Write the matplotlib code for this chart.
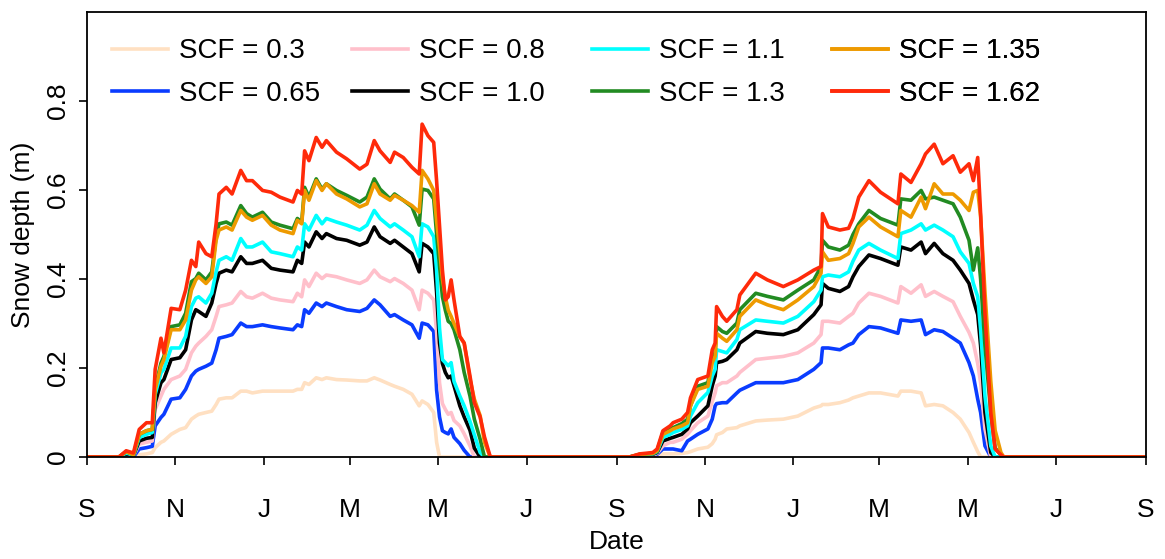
import numpy as np
import pandas as pd
import matplotlib
matplotlib.use("Agg")
import matplotlib.pyplot as plt

# ---- data: days since 1 September of the first year ----
days = [0, 22, 27, 32, 36, 41, 45, 47, 51, 53,
        58, 64, 68, 72, 75, 77, 82, 86, 89, 91,
        96, 100, 106, 110, 114, 121, 127, 133, 142, 145,
        148, 150, 153, 158, 162, 165, 172, 179, 188, 193,
        198, 202, 209, 212, 218, 224, 229, 231, 235, 239,
        241, 243, 245, 247, 249, 251, 253, 257, 260, 264,
        267, 271, 274, 278,
        365, 374, 381, 390, 393, 397, 402, 404, 410, 414,
        416, 421, 428, 431, 433, 434, 438, 441, 448, 450,
        461, 469, 480, 490, 501, 506, 507, 511, 519, 525,
        528, 532, 539, 547, 559, 561, 568, 575, 578, 584,
        590, 597, 602, 608, 611, 614, 616, 619, 623, 626,
        630, 632, 730]

scf_030 = [0, 0, 0, 0, 0.005, 0.007, 0.010, 0.021, 0.033, 0.036,
           0.051, 0.062, 0.066, 0.085, 0.092, 0.096, 0.100, 0.103, 0.118, 0.130,
           0.133, 0.133, 0.148, 0.148, 0.144, 0.148, 0.148, 0.148, 0.148, 0.152,
           0.152, 0.167, 0.163, 0.178, 0.174, 0.178, 0.174, 0.173, 0.171, 0.171,
           0.178, 0.173, 0.163, 0.159, 0.152, 0.141, 0.115, 0.126, 0.118, 0.100,
           0.033, 0, 0, 0, 0, 0, 0, 0, 0, 0,
           0, 0, 0, 0,
           0, 0, 0, 0, 0.003, 0.007, 0.007, 0.007, 0.008, 0.010,
           0.012, 0.018, 0.022, 0.030, 0.040, 0.050, 0.055, 0.063, 0.066, 0.070,
           0.081, 0.083, 0.085, 0.092, 0.110, 0.115, 0.118, 0.118, 0.122, 0.128,
           0.133, 0.137, 0.144, 0.144, 0.137, 0.148, 0.148, 0.144, 0.115, 0.118,
           0.115, 0.100, 0.085, 0.055, 0.033, 0.012, 0, 0, 0, 0,
           0, 0, 0]

scf_065 = [0, 0, 0, 0, 0.018, 0.021, 0.024, 0.070, 0.089, 0.096,
           0.130, 0.133, 0.152, 0.182, 0.193, 0.197, 0.204, 0.211, 0.241, 0.267,
           0.271, 0.275, 0.301, 0.293, 0.293, 0.297, 0.293, 0.290, 0.286, 0.297,
           0.293, 0.331, 0.323, 0.346, 0.338, 0.346, 0.338, 0.331, 0.327, 0.334,
           0.353, 0.342, 0.316, 0.320, 0.308, 0.297, 0.267, 0.301, 0.297, 0.282,
           0.150, 0.090, 0.059, 0.055, 0.052, 0.063, 0.044, 0.030, 0.015, 0,
           0, 0, 0, 0,
           0, 0, 0.002, 0.003, 0.006, 0.018, 0.018, 0.018, 0.014, 0.036,
           0.040, 0.051, 0.063, 0.085, 0.115, 0.120, 0.122, 0.122, 0.144, 0.150,
           0.167, 0.167, 0.167, 0.174, 0.197, 0.212, 0.245, 0.245, 0.241, 0.252,
           0.256, 0.275, 0.293, 0.290, 0.278, 0.308, 0.305, 0.308, 0.275, 0.286,
           0.282, 0.267, 0.256, 0.212, 0.182, 0.130, 0.100, 0.025, 0, 0,
           0, 0, 0]

scf_080 = [0, 0, 0.006, 0.002, 0.029, 0.033, 0.036, 0.107, 0.137, 0.152,
           0.174, 0.182, 0.197, 0.234, 0.249, 0.256, 0.271, 0.286, 0.316, 0.338,
           0.342, 0.346, 0.372, 0.360, 0.357, 0.368, 0.357, 0.353, 0.349, 0.368,
           0.360, 0.398, 0.383, 0.413, 0.401, 0.409, 0.405, 0.398, 0.390, 0.398,
           0.420, 0.405, 0.394, 0.401, 0.390, 0.375, 0.331, 0.375, 0.368, 0.353,
           0.280, 0.167, 0.120, 0.107, 0.096, 0.100, 0.082, 0.070, 0.052, 0.025,
           0, 0, 0, 0,
           0, 0, 0.003, 0.004, 0.008, 0.025, 0.033, 0.033, 0.040, 0.051,
           0.059, 0.077, 0.092, 0.125, 0.144, 0.160, 0.167, 0.167, 0.182, 0.190,
           0.219, 0.222, 0.226, 0.234, 0.256, 0.275, 0.305, 0.305, 0.301, 0.316,
           0.323, 0.346, 0.368, 0.361, 0.346, 0.383, 0.368, 0.387, 0.361, 0.372,
           0.361, 0.349, 0.316, 0.280, 0.256, 0.210, 0.167, 0.063, 0, 0,
           0, 0, 0]

scf_100 = [0, 0, 0.007, 0.003, 0.036, 0.042, 0.044, 0.122, 0.167, 0.174,
           0.219, 0.223, 0.241, 0.308, 0.331, 0.327, 0.316, 0.346, 0.390, 0.413,
           0.420, 0.416, 0.450, 0.435, 0.435, 0.442, 0.424, 0.420, 0.416, 0.442,
           0.435, 0.483, 0.472, 0.506, 0.491, 0.502, 0.491, 0.487, 0.476, 0.483,
           0.517, 0.495, 0.480, 0.487, 0.472, 0.457, 0.416, 0.480, 0.472, 0.457,
           0.370, 0.256, 0.210, 0.190, 0.178, 0.182, 0.160, 0.115, 0.090, 0.060,
           0.020, 0, 0, 0,
           0, 0, 0.004, 0.006, 0.010, 0.036, 0.042, 0.044, 0.051, 0.063,
           0.077, 0.092, 0.115, 0.160, 0.182, 0.212, 0.215, 0.219, 0.241, 0.256,
           0.282, 0.278, 0.275, 0.286, 0.320, 0.342, 0.390, 0.379, 0.372, 0.383,
           0.405, 0.428, 0.454, 0.446, 0.431, 0.472, 0.465, 0.483, 0.457, 0.480,
           0.457, 0.442, 0.420, 0.390, 0.353, 0.320, 0.250, 0.100, 0.010, 0,
           0, 0, 0]

scf_110 = [0, 0, 0.009, 0.004, 0.044, 0.051, 0.055, 0.141, 0.189, 0.197,
           0.245, 0.245, 0.271, 0.338, 0.357, 0.360, 0.346, 0.368, 0.416, 0.442,
           0.450, 0.442, 0.491, 0.472, 0.472, 0.483, 0.461, 0.457, 0.450, 0.472,
           0.465, 0.524, 0.510, 0.543, 0.524, 0.536, 0.528, 0.521, 0.510, 0.521,
           0.554, 0.536, 0.517, 0.524, 0.510, 0.495, 0.450, 0.524, 0.517, 0.495,
           0.420, 0.290, 0.219, 0.212, 0.205, 0.212, 0.170, 0.137, 0.115, 0.080,
           0.050, 0.010, 0, 0,
           0, 0, 0.005, 0.007, 0.012, 0.044, 0.051, 0.055, 0.062, 0.070,
           0.092, 0.122, 0.145, 0.182, 0.197, 0.241, 0.237, 0.234, 0.264, 0.286,
           0.308, 0.305, 0.301, 0.316, 0.349, 0.375, 0.405, 0.409, 0.405, 0.416,
           0.440, 0.465, 0.480, 0.465, 0.446, 0.502, 0.510, 0.524, 0.510, 0.521,
           0.510, 0.495, 0.461, 0.435, 0.390, 0.360, 0.286, 0.137, 0.025, 0,
           0, 0, 0]

scf_130 = [0, 0, 0.012, 0.005, 0.051, 0.059, 0.062, 0.156, 0.211, 0.226,
           0.293, 0.297, 0.323, 0.394, 0.401, 0.413, 0.398, 0.416, 0.495, 0.524,
           0.528, 0.521, 0.565, 0.547, 0.539, 0.550, 0.528, 0.521, 0.513, 0.536,
           0.528, 0.606, 0.584, 0.625, 0.602, 0.614, 0.599, 0.588, 0.573, 0.584,
           0.625, 0.602, 0.580, 0.591, 0.577, 0.562, 0.521, 0.602, 0.599, 0.580,
           0.500, 0.430, 0.360, 0.330, 0.305, 0.300, 0.286, 0.241, 0.190, 0.137,
           0.085, 0.040, 0, 0,
           0, 0, 0.006, 0.008, 0.014, 0.055, 0.062, 0.066, 0.075, 0.085,
           0.115, 0.159, 0.167, 0.226, 0.234, 0.293, 0.282, 0.278, 0.301, 0.331,
           0.368, 0.361, 0.353, 0.375, 0.398, 0.428, 0.487, 0.472, 0.465, 0.476,
           0.500, 0.524, 0.554, 0.536, 0.521, 0.580, 0.577, 0.599, 0.580, 0.584,
           0.577, 0.569, 0.539, 0.487, 0.420, 0.470, 0.400, 0.250, 0.100, 0.020,
           0.005, 0, 0]

scf_135 = [0, 0, 0.012, 0.005, 0.051, 0.059, 0.062, 0.152, 0.204, 0.219,
           0.286, 0.286, 0.308, 0.375, 0.398, 0.405, 0.390, 0.405, 0.487, 0.510,
           0.517, 0.510, 0.554, 0.539, 0.532, 0.543, 0.521, 0.510, 0.502, 0.532,
           0.524, 0.599, 0.577, 0.621, 0.599, 0.614, 0.591, 0.580, 0.562, 0.569,
           0.614, 0.591, 0.577, 0.588, 0.577, 0.565, 0.550, 0.644, 0.625, 0.599,
           0.530, 0.470, 0.400, 0.360, 0.330, 0.316, 0.300, 0.270, 0.256, 0.175,
           0.130, 0.093, 0.033, 0,
           0, 0, 0.006, 0.008, 0.014, 0.051, 0.059, 0.063, 0.070, 0.077,
           0.115, 0.152, 0.159, 0.212, 0.226, 0.278, 0.267, 0.260, 0.286, 0.316,
           0.353, 0.342, 0.331, 0.353, 0.383, 0.413, 0.461, 0.442, 0.446, 0.457,
           0.480, 0.517, 0.539, 0.517, 0.495, 0.554, 0.539, 0.584, 0.558, 0.614,
           0.591, 0.591, 0.577, 0.554, 0.595, 0.599, 0.540, 0.370, 0.170, 0.060,
           0.010, 0, 0]

scf_162 = [0, 0, 0.014, 0.009, 0.062, 0.077, 0.077, 0.197, 0.267, 0.234,
           0.334, 0.331, 0.375, 0.442, 0.428, 0.483, 0.457, 0.450, 0.524, 0.591,
           0.606, 0.591, 0.644, 0.621, 0.621, 0.599, 0.595, 0.584, 0.573, 0.599,
           0.591, 0.688, 0.666, 0.718, 0.696, 0.711, 0.685, 0.670, 0.647, 0.658,
           0.711, 0.688, 0.662, 0.685, 0.673, 0.651, 0.636, 0.748, 0.722, 0.707,
           0.620, 0.520, 0.420, 0.353, 0.360, 0.398, 0.353, 0.271, 0.256, 0.182,
           0.122, 0.090, 0.045, 0,
           0, 0, 0.007, 0.010, 0.018, 0.059, 0.070, 0.077, 0.085, 0.100,
           0.133, 0.174, 0.182, 0.241, 0.256, 0.338, 0.316, 0.305, 0.331, 0.364,
           0.413, 0.398, 0.383, 0.398, 0.420, 0.428, 0.547, 0.517, 0.510, 0.514,
           0.536, 0.584, 0.621, 0.595, 0.569, 0.636, 0.617, 0.659, 0.681, 0.703,
           0.659, 0.677, 0.640, 0.659, 0.621, 0.673, 0.547, 0.323, 0.100, 0.018,
           0.005, 0, 0]

series_labels = ["SCF = 0.3", "SCF = 0.65", "SCF = 0.8", "SCF = 1.0",
                 "SCF = 1.1", "SCF = 1.3", "SCF = 1.35", "SCF = 1.62"]
series_colors = ["#ffe0c2", "#0a3cff", "#ffc0cb", "#000000",
                 "#00ffff", "#228b22", "#ee9a00", "#ff2a0a"]
y_ticks = [0, 0.2, 0.4, 0.6, 0.8]
y_ticklabels = ["0", "0.2", "0.4", "0.6", "0.8"]
start_date = "2013-09-01"
end_date = "2015-09-01"

# ---- figure ----
plt.rcParams['font.family'] = ['Liberation Sans', 'DejaVu Sans']
plt.rcParams['font.size'] = 19

W, H = 1165, 559
fig = plt.figure(figsize=(W / 100, H / 100), dpi=100)
ax = fig.add_axes([87 / W, 1 - 457 / H, (1146 - 87) / W, (457 - 12) / H])

base = np.datetime64(start_date)
x = base + np.array(days).astype("timedelta64[D]")
all_series = [scf_030, scf_065, scf_080, scf_100, scf_110, scf_130, scf_135, scf_162]
lines = []
for vals, lab, col in zip(all_series, series_labels, series_colors):
    ln, = ax.plot(x, vals, color=col, lw=2.6, label=lab, solid_joinstyle='round')
    lines.append(ln)

ax.set_xlim(np.datetime64(start_date), np.datetime64(end_date))
ax.set_ylim(0, 1.0)

ticks = pd.date_range(start_date, end_date, freq="2MS")
ax.set_xticks(ticks.to_numpy())
ax.set_xticklabels([t.strftime("%b")[0] for t in ticks])
ax.set_yticks(y_ticks)
ax.set_yticklabels(y_ticklabels, rotation=90, va="center")

ax.tick_params(axis="x", direction="out", length=6, width=1.2, pad=23.5)
ax.tick_params(axis="y", direction="out", length=6, width=1.2, pad=6.5)
for s in ax.spines.values():
    s.set_linewidth(1.3)

ax.set_xlabel("Date", labelpad=5.5)
ax.set_ylabel("Snow depth (m)", labelpad=8)

# legend: 4 columns of 2 entries, placed like the reference
col_left = [112, 352, 592, 832]
for j, xl in enumerate(col_left):
    leg = ax.legend(handles=lines[2 * j:2 * j + 2], loc="upper left",
                    bbox_to_anchor=(xl / W, 1 - 38.5 / H),
                    bbox_transform=fig.transFigure, frameon=False,
                    borderpad=0, borderaxespad=0, handlelength=2.0,
                    handletextpad=0.4, labelspacing=0.6, fontsize=20)
    for hl in leg.get_lines():
        hl.set_linewidth(2.6)
    ax.add_artist(leg)

fig.savefig("out.png", dpi=100)
